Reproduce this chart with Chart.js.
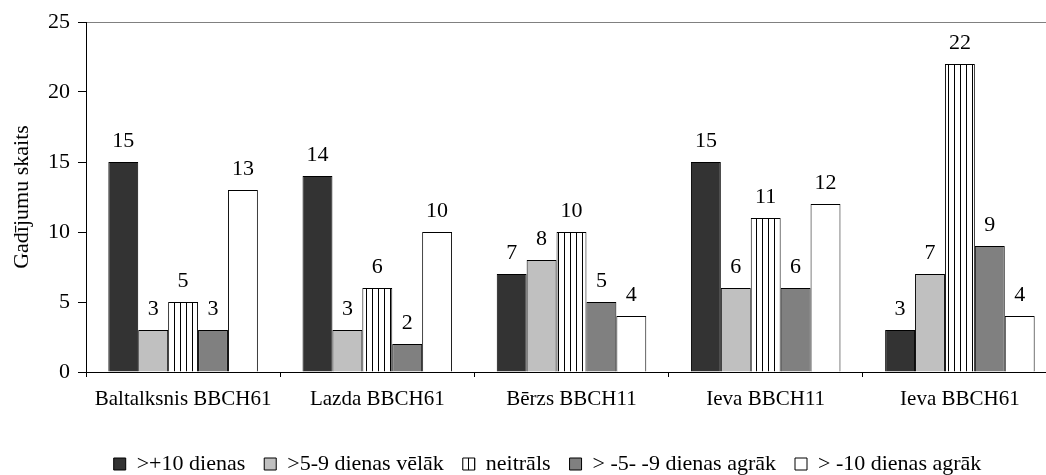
<!DOCTYPE html>
<html lang="lv">
<head>
    <meta charset="UTF-8">
    <title>Gadījumu skaits</title>
    <script src="https://cdn.jsdelivr.net/npm/chart.js"></script>
    <style>
        html, body { margin: 0; padding: 0; background: #fff; overflow: hidden; }
        /* plot runs a bit past the right edge, like the original picture */
        .chart-box { position: relative; width: 1060px; height: 485px; }
    </style>
</head>
<body>
    <div class="chart-box">
        <canvas id="phenoChart"></canvas>
    </div>

    <script>
        // Data
        const categories = ['Baltalksnis BBCH61', 'Lazda BBCH61', 'Bērzs BBCH11', 'Ieva BBCH11', 'Ieva BBCH61'];
        const seriesNames = ['>+10 dienas', '>5-9 dienas vēlāk', 'neitrāls', '> -5- -9 dienas agrāk', '> -10 dienas agrāk'];
        const laterOver10 = [15, 14, 7, 15, 3];
        const later5to9 = [3, 3, 8, 6, 7];
        const neutral = [5, 6, 10, 11, 22];
        const earlier5to9 = [3, 2, 5, 6, 9];
        const earlierOver10 = [13, 10, 4, 12, 4];
        const yTicks = [0, 5, 10, 15, 20, 25];

        const serif = '"Liberation Serif", "Times New Roman", serif';
        Chart.defaults.font.family = serif;
        Chart.defaults.color = '#000';

        const canvas = document.getElementById('phenoChart');
        const ctx = canvas.getContext('2d');

        // vertical line fill for the "neitrāls" series
        function makeStripes() {
            const tile = document.createElement('canvas');
            tile.width = 6;
            tile.height = 6;
            const g = tile.getContext('2d');
            g.fillStyle = '#ffffff';
            g.fillRect(0, 0, 6, 6);
            g.fillStyle = '#000000';
            g.fillRect(0, 0, 1, 6);
            return ctx.createPattern(tile, 'repeat');
        }

        // numbers above the bars
        const valueLabels = {
            id: 'valueLabels',
            afterDatasetsDraw(chart) {
                const c = chart.ctx;
                c.save();
                c.font = '22px ' + serif;
                c.fillStyle = '#000';
                c.textAlign = 'center';
                c.textBaseline = 'alphabetic';
                chart.data.datasets.forEach((ds, i) => {
                    chart.getDatasetMeta(i).data.forEach((bar, j) => {
                        c.fillText(ds.data[j], bar.x, bar.y - 15);
                    });
                });
                c.restore();
            }
        };

        // grey plot area border (top edge is the visible part)
        const plotFrame = {
            id: 'plotFrame',
            afterLayout(chart) {
                // legend sits a little right of the canvas centre in the original
                chart.legend.left += 15;
                chart.legend.right += 15;
            },
            beforeDraw(chart) {
                const a = chart.chartArea;
                const c = chart.ctx;
                c.save();
                c.strokeStyle = '#808080';
                c.lineWidth = 1;
                c.strokeRect(a.left + 0.5, a.top + 0.5, a.right - a.left, a.bottom - a.top);
                c.restore();
            }
        };

        const fills = ['#333333', '#c0c0c0', makeStripes(), '#808080', '#ffffff'];
        const values = [laterOver10, later5to9, neutral, earlier5to9, earlierOver10];

        new Chart(ctx, {
            type: 'bar',
            data: {
                labels: categories,
                datasets: seriesNames.map((name, i) => ({
                    label: name,
                    data: values[i],
                    backgroundColor: fills[i],
                    borderColor: '#000',
                    borderWidth: 1
                }))
            },
            options: {
                responsive: true,
                maintainAspectRatio: false,
                animation: false,
                layout: { padding: { top: 22, right: 3, left: 8, bottom: 0 } },
                datasets: { bar: { categoryPercentage: 0.77, barPercentage: 1 } },
                plugins: {
                    legend: {
                        position: 'bottom',
                        labels: {
                            font: { family: serif, size: 22 },
                            color: '#000',
                            boxWidth: 12,
                            boxHeight: 12,
                            padding: 19
                        }
                    },
                    tooltip: { enabled: false }
                },
                scales: {
                    x: {
                        grid: { drawOnChartArea: false, tickLength: 5, color: '#000' },
                        border: { color: '#000' },
                        ticks: { font: { family: serif, size: 21 }, color: '#000', padding: 10, maxRotation: 0 },
                        afterFit(scale) { scale.height = 62; }
                    },
                    y: {
                        min: yTicks[0],
                        max: yTicks[yTicks.length - 1],
                        ticks: { stepSize: yTicks[1] - yTicks[0], font: { family: serif, size: 22 }, color: '#000', padding: 8 },
                        grid: { drawOnChartArea: false, tickLength: 8, color: '#000' },
                        border: { color: '#000' },
                        title: {
                            display: true,
                            text: 'Gadījumu skaits',
                            font: { family: serif, size: 22 },
                            color: '#000',
                            padding: { top: 1, bottom: 0 }
                        },
                        afterFit(scale) { scale.width = 78; }
                    }
                }
            },
            plugins: [plotFrame, valueLabels]
        });
    </script>
</body>
</html>
